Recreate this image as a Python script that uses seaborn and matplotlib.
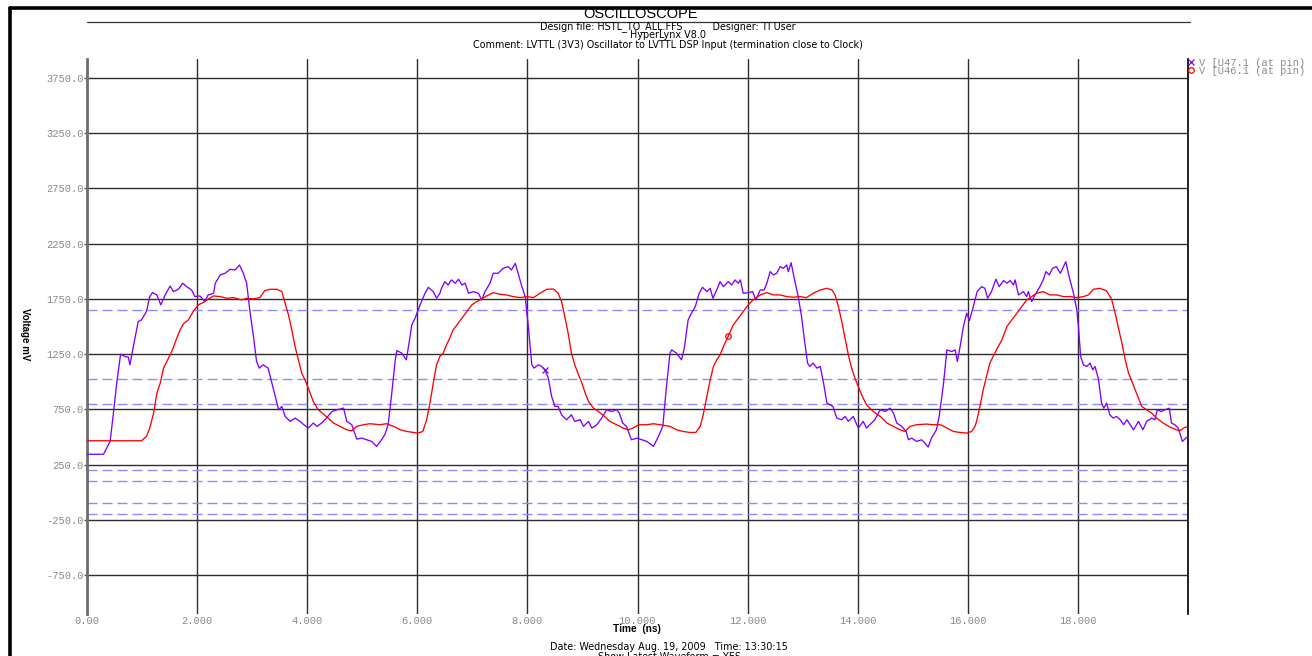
import numpy as np
import pandas as pd
import matplotlib
matplotlib.use("Agg")
import matplotlib.pyplot as plt
import seaborn as sns
from matplotlib.lines import Line2D

# ---------------- data ----------------
time_u47 = [0.00, 0.30, 0.42, 0.48, 0.54, 0.61, 0.69, 0.75, 0.78, 0.83, 0.93, 0.99, 1.08, 1.14, 1.19, 1.27,
            1.34, 1.42, 1.51, 1.57, 1.66, 1.74, 1.81, 1.90, 1.96, 2.05, 2.14, 2.20, 2.30, 2.33, 2.42, 2.51,
            2.60, 2.69, 2.77, 2.84, 2.90, 2.96, 3.02, 3.08, 3.13, 3.20, 3.29, 3.36, 3.42, 3.48, 3.54, 3.60,
            3.69, 3.78, 3.87, 3.94, 4.02, 4.11, 4.18, 4.26, 4.35, 4.45, 4.54, 4.66, 4.72, 4.81, 4.90, 4.99,
            5.08, 5.17, 5.26, 5.35, 5.41, 5.47, 5.53, 5.60, 5.63, 5.72, 5.80, 5.84, 5.90, 5.96, 6.05, 6.14,
            6.20, 6.29, 6.35, 6.41, 6.44, 6.50, 6.56, 6.62, 6.69, 6.75, 6.81, 6.87, 6.93, 7.02, 7.11, 7.17,
            7.23, 7.32, 7.38, 7.47, 7.56, 7.65, 7.71, 7.78, 7.84, 7.90, 7.96, 8.02, 8.08, 8.12, 8.20, 8.26,
            8.32, 8.38, 8.44, 8.50, 8.56, 8.62, 8.71, 8.80, 8.86, 8.96, 9.02, 9.11, 9.17, 9.26, 9.35, 9.44,
            9.53, 9.62, 9.67, 9.73, 9.80, 9.89, 9.99, 10.08, 10.17, 10.29, 10.38, 10.46, 10.52, 10.59, 10.62,
            10.71, 10.80, 10.85, 10.92, 10.98, 11.05, 11.12, 11.18, 11.26, 11.32, 11.37, 11.44, 11.50, 11.56,
            11.65, 11.71, 11.77, 11.83, 11.87, 11.92, 12.01, 12.09, 12.15, 12.23, 12.30, 12.35, 12.41, 12.47,
            12.53, 12.59, 12.65, 12.71, 12.74, 12.79, 12.86, 12.92, 12.98, 13.04, 13.09, 13.13, 13.19, 13.26,
            13.32, 13.38, 13.44, 13.50, 13.55, 13.62, 13.71, 13.77, 13.83, 13.92, 14.01, 14.10, 14.16, 14.25,
            14.31, 14.41, 14.50, 14.59, 14.65, 14.71, 14.80, 14.88, 14.92, 14.98, 15.07, 15.16, 15.22, 15.28,
            15.34, 15.43, 15.48, 15.56, 15.62, 15.71, 15.77, 15.81, 15.86, 15.92, 15.98, 16.03, 16.10, 16.17,
            16.25, 16.31, 16.36, 16.43, 16.51, 16.57, 16.65, 16.71, 16.77, 16.83, 16.86, 16.92, 17.01, 17.07,
            17.10, 17.16, 17.22, 17.31, 17.37, 17.42, 17.48, 17.54, 17.61, 17.68, 17.71, 17.78, 17.84, 17.92,
            17.98, 18.01, 18.05, 18.10, 18.16, 18.22, 18.27, 18.31, 18.37, 18.43, 18.47, 18.52, 18.58, 18.64,
            18.70, 18.77, 18.83, 18.89, 18.95, 19.01, 19.10, 19.18, 19.25, 19.34, 19.40, 19.44, 19.52, 19.58,
            19.66, 19.70, 19.76, 19.82, 19.90, 19.96, 20.00]
volt_u47 = [345, 345, 461, 717, 988, 1250, 1229, 1223, 1154, 1289, 1545, 1560, 1636, 1771, 1807, 1786,
            1696, 1786, 1867, 1816, 1837, 1892, 1861, 1831, 1771, 1777, 1726, 1786, 1801, 1892, 1967, 1982,
            2018, 2012, 2057, 1982, 1892, 1636, 1425, 1184, 1124, 1154, 1124, 988, 868, 747, 777, 687,
            642, 672, 642, 612, 582, 627, 597, 627, 672, 732, 747, 762, 642, 612, 482, 491,
            476, 461, 416, 476, 522, 612, 868, 1199, 1283, 1259, 1199, 1319, 1515, 1575, 1696, 1801,
            1855, 1816, 1756, 1801, 1846, 1906, 1876, 1922, 1892, 1928, 1876, 1892, 1801, 1816, 1801, 1741,
            1816, 1892, 1982, 1982, 2027, 2042, 2012, 2072, 1967, 1861, 1771, 1485, 1154, 1124, 1154, 1139,
            1108, 1033, 868, 777, 777, 702, 657, 702, 642, 657, 597, 642, 582, 612, 672, 747,
            732, 747, 717, 627, 597, 476, 491, 476, 461, 416, 506, 597, 928, 1259, 1289,
            1259, 1199, 1304, 1560, 1621, 1681, 1801, 1855, 1816, 1846, 1756, 1831, 1906, 1861,
            1906, 1876, 1922, 1892, 1922, 1801, 1807, 1816, 1741, 1831, 1831, 1892, 1997, 1967,
            1982, 2042, 2027, 2057, 1997, 2078, 1906, 1771, 1590, 1349, 1169, 1139, 1169, 1124,
            1139, 988, 808, 792, 777, 672, 657, 687, 642, 687, 582, 642, 582, 627,
            657, 747, 732, 762, 717, 627, 597, 551, 476, 491, 461, 476, 446, 410,
            491, 566, 687, 988, 1289, 1274, 1289, 1184, 1319, 1500, 1621, 1555, 1681, 1816,
            1861, 1846, 1756, 1816, 1928, 1861, 1916, 1892, 1916, 1876, 1922, 1786, 1816, 1771,
            1816, 1726, 1786, 1861, 1922, 1997, 1967, 2027, 2042, 1982, 2012, 2087, 1952, 1801,
            1650, 1500, 1229, 1154, 1139, 1169, 1108, 1139, 1033, 808, 762, 808, 702, 672,
            687, 657, 612, 657, 612, 566, 642, 566, 642, 672, 657, 747, 732, 747,
            762, 627, 612, 582, 461, 491, 506]

time_u46 = [0.00, 0.99, 1.08, 1.14, 1.21, 1.27, 1.33, 1.39, 1.45, 1.54, 1.63, 1.69, 1.75, 1.84, 1.93, 2.02,
            2.11, 2.20, 2.30, 2.42, 2.54, 2.66, 2.81, 2.90, 3.02, 3.14, 3.23, 3.32, 3.45, 3.54, 3.60, 3.66,
            3.72, 3.78, 3.84, 3.90, 3.96, 4.02, 4.11, 4.20, 4.29, 4.38, 4.48, 4.60, 4.72, 4.81, 4.90, 5.02,
            5.14, 5.32, 5.44, 5.57, 5.69, 5.81, 5.93, 6.01, 6.10, 6.17, 6.23, 6.29, 6.35, 6.41, 6.47, 6.53,
            6.59, 6.65, 6.72, 6.81, 6.90, 6.99, 7.08, 7.14, 7.26, 7.38, 7.50, 7.62, 7.74, 7.87, 7.99, 8.11,
            8.23, 8.35, 8.47, 8.56, 8.62, 8.68, 8.74, 8.80, 8.86, 8.93, 8.99, 9.05, 9.11, 9.20, 9.29, 9.38,
            9.50, 9.62, 9.74, 9.83, 9.92, 10.02, 10.17, 10.29, 10.41, 10.59, 10.71, 10.83, 10.95, 11.06,
            11.14, 11.20, 11.26, 11.32, 11.38, 11.44, 11.50, 11.56, 11.65, 11.74, 11.83, 11.92, 12.01,
            12.10, 12.23, 12.35, 12.47, 12.59, 12.71, 12.83, 12.95, 13.07, 13.19, 13.32, 13.44, 13.53,
            13.59, 13.65, 13.71, 13.77, 13.83, 13.89, 13.95, 14.01, 14.07, 14.16, 14.28, 14.41, 14.53,
            14.65, 14.77, 14.86, 14.95, 15.07, 15.25, 15.37, 15.50, 15.62, 15.74, 15.86, 15.98, 16.07,
            16.13, 16.16, 16.22, 16.28, 16.34, 16.40, 16.46, 16.52, 16.62, 16.71, 16.80, 16.89, 16.98,
            17.07, 17.16, 17.25, 17.37, 17.49, 17.61, 17.74, 17.86, 17.98, 18.10, 18.19, 18.28, 18.40,
            18.52, 18.61, 18.67, 18.73, 18.80, 18.86, 18.92, 18.98, 19.04, 19.10, 19.16, 19.25, 19.34,
            19.43, 19.55, 19.67, 19.79, 19.86, 19.92, 20.00]
volt_u46 = [467, 467, 506, 582, 717, 898, 988, 1124, 1184, 1274, 1395, 1470, 1524, 1560, 1636, 1696,
            1717, 1747, 1777, 1771, 1756, 1762, 1741, 1756, 1750, 1762, 1825, 1837, 1837, 1816, 1711, 1605,
            1470, 1319, 1199, 1079, 1018, 943, 823, 747, 711, 672, 627, 597, 566, 557, 597, 612,
            621, 612, 621, 597, 566, 551, 542, 536, 551, 657, 808, 988, 1154, 1229, 1259, 1334,
            1395, 1470, 1515, 1575, 1636, 1696, 1726, 1741, 1777, 1807, 1792, 1786, 1771, 1762, 1771, 1762,
            1801, 1837, 1840, 1801, 1726, 1590, 1440, 1259, 1154, 1063, 988, 898, 823, 762, 732, 696,
            642, 612, 582, 566, 582, 612, 612, 621, 612, 597, 566, 551, 542, 542,
            597, 717, 868, 1018, 1139, 1199, 1244, 1319, 1415, 1515, 1575, 1636, 1696,
            1741, 1786, 1807, 1786, 1786, 1771, 1765, 1771, 1762, 1801, 1831, 1846, 1831,
            1786, 1681, 1545, 1395, 1244, 1124, 1033, 958, 883, 792, 732, 687, 627,
            597, 566, 551, 597, 612, 618, 612, 612, 582, 551, 542, 536, 551,
            597, 642, 777, 928, 1048, 1169, 1229, 1289, 1380, 1500, 1560, 1621, 1681,
            1741, 1771, 1801, 1816, 1786, 1786, 1771, 1771, 1762, 1771, 1786, 1837, 1846,
            1822, 1750, 1636, 1500, 1349, 1199, 1079, 1003, 928, 853, 777, 747, 717,
            672, 627, 591, 566, 560, 582, 597]

series_names = ["V [U47.1 (at pin)", "V [U46.1 (at pin)"]
series_colors = ["#7f00ff", "#ff0000"]
series_markers = ["x", "o"]
marker_times = [8.32, 11.65]          # single marker drawn on each trace

threshold_mv = [1650, 1030, 800, 200, 100, -100, -200]
y_ticks = [-750, -250, 250, 750, 1250, 1750, 2250, 2750, 3250, 3750]
y_tick_labels = ["-750.0", "-250.0", "250.0", "750.0", "1250.0", "1750.0",
                 "2250.0", "2750.0", "3250.0", "3750.0"]
x_ticks = [0, 2, 4, 6, 8, 10, 12, 14, 16, 18, 20]
x_tick_labels = ["0.00", "2.000", "4.000", "6.000", "8.000", "10.000",
                 "12.000", "14.000", "16.000", "18.000", ""]

title = "OSCILLOSCOPE"
header_lines = ["Design file: HSTL_TO_ALL.FFS          Designer: TI User",
                "HyperLynx V8.0",
                "Comment: LVTTL (3V3) Oscillator to LVTTL DSP Input (termination close to Clock)"]
footer_lines = ["Date: Wednesday Aug. 19, 2009   Time: 13:30:15",
                "Show Latest Waveform = YES"]

# ---------------- figure ----------------
sns.set_theme(style="white")
plt.rcParams['font.family'] = ['Liberation Sans', 'DejaVu Sans']

W, H = 1312, 656
fig = plt.figure(figsize=(W / 100, H / 100), dpi=100)
fig.patch.set_facecolor("white")

left_px, right_px, top_px, bot_px = 87, 1188, 59, 614
ax = fig.add_axes([left_px / W, 1 - bot_px / H, (right_px - left_px) / W, (bot_px - top_px) / H])
ax.set_facecolor("white")

df = pd.concat([
    pd.DataFrame({"t": time_u47, "v": volt_u47, "series": series_names[0]}),
    pd.DataFrame({"t": time_u46, "v": volt_u46, "series": series_names[1]}),
], ignore_index=True)

# threshold lines
for th in threshold_mv:
    ax.axhline(th, color="#8c8cff", lw=1.0, linestyle=(0, (7.2, 3.6)), zorder=1.5)

sns.lineplot(data=df, x="t", y="v", hue="series", hue_order=series_names,
             palette=dict(zip(series_names, series_colors)), estimator=None, sort=False,
             linewidth=0.95, legend=False, ax=ax, zorder=3)

# single markers on each trace
for tt, vv, col, mk, mt in [(time_u47, volt_u47, series_colors[0], series_markers[0], marker_times[0]),
                            (time_u46, volt_u46, series_colors[1], series_markers[1], marker_times[1])]:
    i = int(np.argmin(np.abs(np.asarray(tt) - mt)))
    ax.plot([tt[i]], [vv[i]], marker=mk, color=col, markersize=4, mfc="none", mew=0.9, linestyle="none", zorder=4)

ax.set_xlim(0, 20)
ax.set_ylim(-1100, 3920)
ax.set_xticks(x_ticks)
ax.set_xticklabels(x_tick_labels)
ax.set_yticks(y_ticks)
ax.set_yticklabels(y_tick_labels)
ax.set_xlabel("")
ax.set_ylabel("")
ax.grid(True, color="#2e2e2e", lw=1.0, zorder=1)
ax.set_axisbelow(True)

for lab in ax.get_xticklabels() + ax.get_yticklabels():
    lab.set_fontfamily("Liberation Mono")
    lab.set_fontsize(7.5)
    lab.set_color("#8a8a8a")
ax.tick_params(axis="x", length=0, pad=1.5)
ax.tick_params(axis="y", length=2, width=1, color="#555555", pad=0.5, left=True)

for s in ["top", "bottom"]:
    ax.spines[s].set_visible(False)
ax.spines["left"].set_color("#6e6e6e")
ax.spines["left"].set_linewidth(2.0)
ax.spines["right"].set_color("#111111")
ax.spines["right"].set_linewidth(1.3)

# outer frame (cropped window border) and header rule
fig.add_artist(Line2D([10 / W, 10 / W], [0, 1 - 8 / H], transform=fig.transFigure, color="black", lw=2.6))
fig.add_artist(Line2D([10 / W, 1], [1 - 8 / H, 1 - 8 / H], transform=fig.transFigure, color="black", lw=2.6))
fig.add_artist(Line2D([87 / W, 1190 / W], [1 - 22 / H, 1 - 22 / H], transform=fig.transFigure,
                      color="#333333", lw=0.9))

# header texts
fig.text(641 / W, 1 - 14.5 / H, title, ha="center", va="center", fontsize=10.5, color="black")
for txt, yy in zip(header_lines, [26.5, 35.5, 44.5]):
    fig.text(668 / W, 1 - yy / H, txt, ha="center", va="center", fontsize=6.9, color="black",
             family="DejaVu Sans")

# axis titles
fig.text(637 / W, 1 - 629 / H, "Time  (ns)", ha="center", va="center", fontsize=7.3,
         fontweight="bold", color="black")
fig.text(25 / W, 1 - 334 / H, "Voltage mV", ha="center", va="center", fontsize=7,
         fontweight="bold", rotation=270, color="black")

for txt, yy in zip(footer_lines, [646.5, 657]):
    fig.text(669 / W, 1 - yy / H, txt, ha="center", va="center", fontsize=6.9, color="black",
             family="DejaVu Sans")

# legend
handles = [Line2D([], [], color=c, marker=m, linestyle="none", markersize=4, mfc="none", mew=0.9)
           for c, m in zip(series_colors, series_markers)]
leg = fig.legend(handles, series_names, loc="upper left", bbox_to_anchor=(1188 / W, 1 - 58 / H),
                 frameon=False, handlelength=0.6, handletextpad=0.5, labelspacing=-0.2,
                 borderaxespad=0, borderpad=0, prop={"family": "Liberation Mono", "size": 7.5})
for t in leg.get_texts():
    t.set_color("#8a8a8a")

fig.savefig("out.png", dpi=100, facecolor="white")
